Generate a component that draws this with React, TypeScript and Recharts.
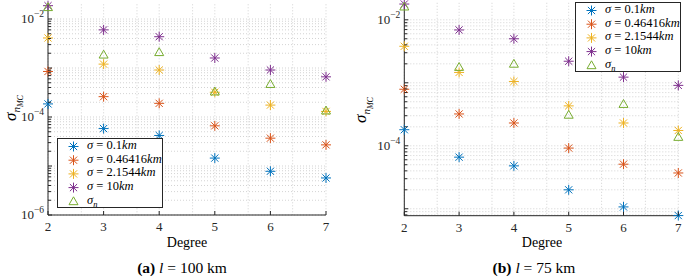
import React from 'react';
import { ScatterChart, Scatter, XAxis, YAxis, CartesianGrid } from 'recharts';

const degrees = [2, 3, 4, 5, 6, 7];
const seriesLabels = ['0.1', '0.46416', '2.1544', '10'];
const colors = ['#0072BD', '#D95319', '#EDB120', '#7E2F8E', '#77AC30'];

// Panel (a) l = 100 km
const a_s01 = [1.85e-4, 5.8e-5, 4.2e-5, 1.45e-5, 7.8e-6, 5.7e-6];
const a_s046 = [8.5e-4, 2.6e-4, 1.9e-4, 6.6e-5, 3.7e-5, 2.7e-5];
const a_s215 = [4.1e-3, 1.2e-3, 9.1e-4, 3.2e-4, 1.75e-4, 1.3e-4];
const a_s10 = [1.87e-2, 6.0e-3, 4.35e-3, 1.6e-3, 9.1e-4, 6.6e-4];
const a_sn = [1.74e-2, 1.87e-3, 2.1e-3, 3.3e-4, 4.7e-4, 1.35e-4];

// Panel (b) l = 75 km
const b_s01 = [1.8e-4, 6.6e-5, 4.8e-5, 2.0e-5, 1.07e-5, 7.8e-6];
const b_s046 = [7.9e-4, 3.2e-4, 2.3e-4, 9.2e-5, 5.1e-5, 3.7e-5];
const b_s215 = [3.8e-3, 1.46e-3, 1.05e-3, 4.3e-4, 2.3e-4, 1.75e-4];
const b_s10 = [1.78e-2, 6.9e-3, 5.0e-3, 2.2e-3, 1.23e-3, 9.1e-4];
const b_sn = [1.62e-2, 1.78e-3, 2.0e-3, 3.1e-4, 4.6e-4, 1.38e-4];

const aLabelTicks = [1e-6, 1e-4, 1e-2];
const bLabelTicks = [1e-4, 1e-2];
const aDomain: [number, number] = [1e-6, Math.pow(10, -1.7)];
const bDomain: [number, number] = [Math.pow(10, -5.11), Math.pow(10, -1.73)];

const FONT = "'Liberation Serif', 'Times New Roman', serif";

function logTicks(lo: number, hi: number): number[] {
  const out: number[] = [];
  for (let e = -7; e <= -1; e++) {
    for (let k = 1; k <= 9; k++) {
      const v = k * Math.pow(10, e);
      if (v >= lo * 0.9999 && v <= hi * 1.0001) out.push(v);
    }
  }
  return out;
}

const xGrid: number[] = [];
for (let i = 0; i <= 25; i++) xGrid.push(2 + i * 0.2);

const toPts = (arr: number[]) => degrees.map((d, i) => ({ x: d, y: arr[i] }));

const Star = ({ cx, cy, color, r = 5 }: any) => {
  if (cx == null || cy == null) return null;
  const d = r * 0.72;
  return (
    <g stroke={color} strokeWidth={1} fill="none">
      <line x1={cx - r} y1={cy} x2={cx + r} y2={cy} />
      <line x1={cx} y1={cy - r} x2={cx} y2={cy + r} />
      <line x1={cx - d} y1={cy - d} x2={cx + d} y2={cy + d} />
      <line x1={cx - d} y1={cy + d} x2={cx + d} y2={cy - d} />
    </g>
  );
};

const Tri = ({ cx, cy, color }: any) => {
  if (cx == null || cy == null) return null;
  const h = 4.5;
  return (
    <polygon
      points={`${cx},${cy - h} ${cx - h},${cy + h * 0.75} ${cx + h},${cy + h * 0.75}`}
      fill="none"
      stroke={color}
      strokeWidth={1}
    />
  );
};

const isDecade = (v: number) => Math.abs(Math.log10(v) - Math.round(Math.log10(v))) < 1e-6;

const makeYTick = (labels: number[]) => (props: any) => {
  const { x, y, payload } = props;
  const v = payload.value;
  const dec = isDecade(v);
  const labeled = labels.some((l) => Math.abs(l - v) / l < 1e-6);
  const e = Math.round(Math.log10(v));
  return (
    <g>
      <line x1={x} y1={y} x2={x + (dec ? 4 : 3)} y2={y} stroke="#262626" strokeWidth={1} />
      {labeled && (
        <text x={x - 4} y={y + 4} textAnchor="end" style={{ fontFamily: FONT }} fontSize={13} fill="#262626">
          <tspan>10</tspan>
          <tspan dy={-6} fontSize={9.5}>{'\u2212' + Math.abs(e)}</tspan>
        </text>
      )}
    </g>
  );
};

const XTick = (props: any) => {
  const { x, y, payload } = props;
  return (
    <g>
      <line x1={x} y1={y} x2={x} y2={y - 4} stroke="#262626" strokeWidth={1} />
      <text x={x} y={y + 16} textAnchor="middle" style={{ fontFamily: FONT }} fontSize={13} fill="#262626">
        {payload.value}
      </text>
    </g>
  );
};

type PanelProps = {
  left: number;
  margin: { top: number; right: number; bottom: number; left: number };
  domain: [number, number];
  labels: number[];
  series: number[][];
};

const Panel = ({ left, margin, domain, labels, series }: PanelProps) => {
  const yt = logTicks(domain[0], domain[1]);
  return (
    <div style={{ position: 'absolute', left, top: 0 }}>
      <ScatterChart width={340} height={280} margin={margin}>
        <CartesianGrid
          horizontalValues={yt}
          verticalValues={xGrid}
          stroke="#c8c8c8"
          strokeDasharray="1 2"
          strokeWidth={0.8}
        />
        <XAxis
          type="number"
          dataKey="x"
          domain={[2, 7]}
          ticks={degrees}
          height={20}
          tickSize={0}
          tickMargin={0}
          tickLine={false}
          axisLine={{ stroke: '#262626', strokeWidth: 1 }}
          tick={<XTick />}
          allowDecimals={false}
        />
        <YAxis
          type="number"
          dataKey="y"
          scale="log"
          domain={domain}
          ticks={yt}
          width={40}
          tickSize={0}
          tickMargin={0}
          tickLine={false}
          axisLine={{ stroke: '#262626', strokeWidth: 1 }}
          tick={makeYTick(labels)}
          interval={0}
        />
        {series.slice(0, 4).map((s, i) => (
          <Scatter
            key={i}
            data={toPts(s)}
            isAnimationActive={false}
            shape={(p: any) => <Star cx={p.cx} cy={p.cy} color={colors[i]} />}
          />
        ))}
        <Scatter
          data={toPts(series[4])}
          isAnimationActive={false}
          shape={(p: any) => <Tri cx={p.cx} cy={p.cy} color={colors[4]} />}
        />
      </ScatterChart>
    </div>
  );
};

const LegendBox = ({ left, top }: { left: number; top: number }) => {
  const rowH = 13.7;
  return (
    <div
      style={{
        position: 'absolute',
        left,
        top,
        width: 106,
        height: 70,
        background: '#fff',
        border: '1px solid #262626',
        boxSizing: 'border-box',
        fontFamily: FONT,
        fontSize: 12.5,
        color: '#000',
      }}
    >
      <svg width={30} height={70} style={{ position: 'absolute', left: 0, top: 0 }}>
        {seriesLabels.map((_, i) => (
          <Star key={i} cx={15.5} cy={7.5 + i * rowH} color={colors[i]} />
        ))}
        <Tri cx={15.5} cy={7.5 + 4 * rowH} color={colors[4]} />
      </svg>
      {seriesLabels.map((l, i) => (
        <div
          key={i}
          style={{ position: 'absolute', left: 29, top: i * rowH, height: rowH, lineHeight: `${rowH}px`, whiteSpace: 'nowrap' }}
        >
          <i>σ</i> = {l}<i>km</i>
        </div>
      ))}
      <div style={{ position: 'absolute', left: 29, top: 4 * rowH, height: rowH, lineHeight: `${rowH}px` }}>
        <i>σ</i>
        <span style={{ fontSize: 8.5, position: 'relative', top: 3 }}>
          <i>n</i>
        </span>
      </div>
    </div>
  );
};

const YLabel = ({ left, top }: { left: number; top: number }) => (
  <div
    style={{
      position: 'absolute',
      left,
      top,
      transform: 'translate(-50%, -50%) rotate(-90deg)',
      fontFamily: FONT,
      fontSize: 17,
      lineHeight: '20px',
      whiteSpace: 'nowrap',
      color: '#000',
    }}
  >
    <i>σ</i>
    <span style={{ fontSize: 11, position: 'relative', top: 4 }}>
      <i>n</i>
      <span style={{ fontSize: 8, position: 'relative', top: 3 }}>
        <i>MC</i>
      </span>
    </span>
  </div>
);

const TextAt = ({ left, top, size, children }: any) => (
  <div
    style={{
      position: 'absolute',
      left,
      top,
      transform: 'translate(-50%, -50%)',
      fontFamily: FONT,
      fontSize: size,
      whiteSpace: 'nowrap',
      color: '#000',
    }}
  >
    {children}
  </div>
);

export default function App() {
  return (
    <div style={{ position: 'absolute', left: 0, top: 0, width: 685, height: 280, background: '#fff', overflow: 'hidden', fontFamily: FONT }}>
      <Panel
        left={0}
        margin={{ top: 4.3, right: 14, bottom: 45, left: 8 }}
        domain={aDomain}
        labels={aLabelTicks}
        series={[a_s01, a_s046, a_s215, a_s10, a_sn]}
      />
      <Panel
        left={345}
        margin={{ top: 2.8, right: 6.7, bottom: 44.3, left: 19.3 }}
        domain={bDomain}
        labels={bLabelTicks}
        series={[b_s01, b_s046, b_s215, b_s10, b_sn]}
      />
      <LegendBox left={57} top={138} />
      <LegendBox left={575} top={2} />
      <YLabel left={12} top={108} />
      <YLabel left={362} top={110} />
      <TextAt left={187} top={243} size={14}>Degree</TextAt>
      <TextAt left={542} top={243} size={14}>Degree</TextAt>
      <TextAt left={182} top={268} size={15.5}>
        <b>(a)</b> <i>l</i> = 100 km
      </TextAt>
      <TextAt left={534} top={268} size={15.5}>
        <b>(b)</b> <i>l</i> = 75 km
      </TextAt>
    </div>
  );
}
